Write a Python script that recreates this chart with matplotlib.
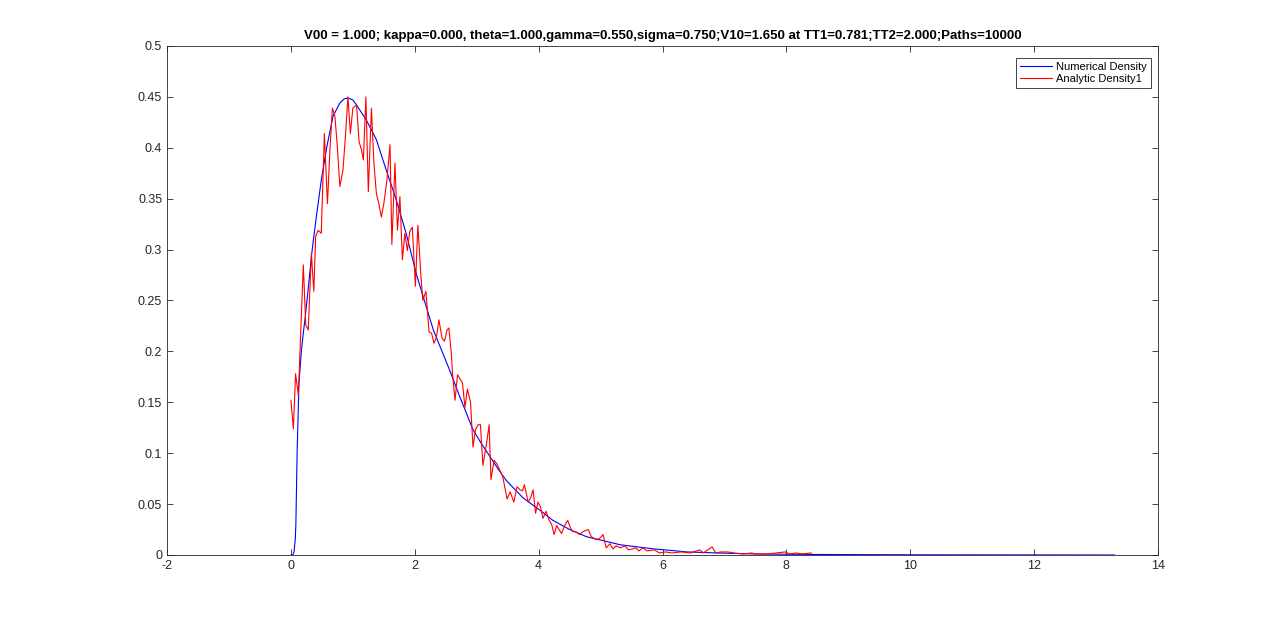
import matplotlib
matplotlib.use("Agg")
import matplotlib.pyplot as plt
from matplotlib.ticker import FuncFormatter

plt.rcParams['font.family'] = ['Liberation Sans', 'DejaVu Sans']
plt.rcParams['axes.unicode_minus'] = False

TITLE = ("V00 = 1.000; kappa=0.000, theta=1.000,gamma=0.550,sigma=0.750;"
         "V10=1.650 at TT1=0.781;TT2=2.000;Paths=10000")

# smooth density
num_x = [0.00, 0.03, 0.05, 0.07, 0.08, 0.10, 0.13, 0.17, 0.20, 0.23, 0.28,
         0.34, 0.41, 0.49, 0.58, 0.68, 0.79, 0.86, 0.92, 1.00, 1.06, 1.22,
         1.38, 1.54, 1.70, 1.86, 2.03, 2.30, 2.56, 2.73, 2.94, 3.08, 3.21,
         3.35, 3.48, 3.75, 4.02, 4.23, 4.50, 4.77, 5.32, 5.86, 6.40, 6.87,
         7.50, 8.50, 10.0, 11.5, 13.3]
num_y = [0.000, 0.000, 0.003, 0.015, 0.030, 0.100, 0.169, 0.201, 0.218,
         0.233, 0.262, 0.298, 0.332, 0.368, 0.401, 0.431, 0.444, 0.448,
         0.449, 0.447, 0.442, 0.427, 0.408, 0.378, 0.349, 0.316, 0.275,
         0.221, 0.182, 0.155, 0.123, 0.109, 0.097, 0.084, 0.073, 0.056,
         0.044, 0.034, 0.025, 0.018, 0.010, 0.006, 0.003, 0.002, 0.001,
         0.0005, 0.0002, 0.0001, 0.0]

# noisy density
ana_x = [0.00, 0.04, 0.075, 0.12, 0.20, 0.24, 0.28, 0.33, 0.37, 0.40, 0.44,
         0.49, 0.54, 0.59, 0.63, 0.67, 0.71, 0.75, 0.79, 0.84, 0.88, 0.92,
         0.96, 1.00, 1.06, 1.10, 1.14, 1.17, 1.21, 1.25, 1.30, 1.34, 1.38,
         1.42, 1.46, 1.50, 1.55, 1.60, 1.63, 1.68, 1.72, 1.76, 1.80, 1.84,
         1.88, 1.92, 1.96, 2.01, 2.05, 2.10, 2.13, 2.18, 2.23, 2.27, 2.31,
         2.35, 2.39, 2.44, 2.48, 2.52, 2.55, 2.59, 2.61, 2.65, 2.69, 2.74,
         2.77, 2.81, 2.85, 2.90, 2.94, 2.98, 3.02, 3.06, 3.10, 3.16, 3.20,
         3.23, 3.28, 3.32, 3.36, 3.42, 3.49, 3.54, 3.60, 3.65, 3.70, 3.74,
         3.77, 3.83, 3.87, 3.91, 3.95, 3.99, 4.03, 4.07, 4.12, 4.17, 4.21,
         4.25, 4.29, 4.33, 4.37, 4.42, 4.47, 4.51, 4.55, 4.60, 4.66, 4.72,
         4.80, 4.85, 4.93, 4.98, 5.04, 5.09, 5.15, 5.20, 5.25, 5.32, 5.39,
         5.45, 5.52, 5.57, 5.62, 5.68, 5.75, 5.87, 5.95, 6.05, 6.15, 6.30,
         6.45, 6.60, 6.66, 6.80, 6.86, 6.95, 7.05, 7.15, 7.30, 7.44, 7.50,
         7.70, 7.98, 8.05, 8.16, 8.25, 8.40]
ana_y = [0.152, 0.124, 0.178, 0.157, 0.285, 0.226, 0.221, 0.296, 0.259,
         0.313, 0.319, 0.316, 0.414, 0.345, 0.398, 0.439, 0.431, 0.401,
         0.362, 0.378, 0.411, 0.450, 0.414, 0.439, 0.442, 0.406, 0.398,
         0.388, 0.450, 0.357, 0.439, 0.385, 0.355, 0.345, 0.332, 0.345,
         0.368, 0.403, 0.305, 0.385, 0.319, 0.352, 0.290, 0.316, 0.299,
         0.318, 0.322, 0.264, 0.324, 0.273, 0.250, 0.259, 0.219, 0.218,
         0.208, 0.214, 0.231, 0.213, 0.210, 0.221, 0.223, 0.198, 0.177,
         0.152, 0.177, 0.172, 0.169, 0.145, 0.163, 0.150, 0.106, 0.123,
         0.128, 0.128, 0.088, 0.110, 0.128, 0.074, 0.093, 0.090, 0.085,
         0.077, 0.055, 0.062, 0.052, 0.067, 0.064, 0.063, 0.069, 0.052,
         0.056, 0.064, 0.041, 0.052, 0.047, 0.036, 0.043, 0.034, 0.030,
         0.020, 0.029, 0.025, 0.021, 0.029, 0.034, 0.027, 0.023, 0.023,
         0.020, 0.023, 0.025, 0.018, 0.015, 0.016, 0.020, 0.007, 0.011,
         0.006, 0.009, 0.007, 0.009, 0.005, 0.006, 0.007, 0.004, 0.007,
         0.004, 0.005, 0.002, 0.003, 0.002, 0.003, 0.002, 0.005, 0.002,
         0.008, 0.002, 0.003, 0.003, 0.002, 0.001, 0.002, 0.001, 0.001,
         0.003, 0.001, 0.002, 0.001, 0.002]

x_ticks = [-2, 0, 2, 4, 6, 8, 10, 12, 14]
y_ticks = [0, 0.05, 0.1, 0.15, 0.2, 0.25, 0.3, 0.35, 0.4, 0.45, 0.5]

fig = plt.figure(figsize=(12.8, 6.24), dpi=100)
ax = fig.add_axes([0.1305, 0.1106, 0.7742, 0.8157])

ax.plot(num_x, num_y, color=(0, 0, 1), lw=0.8, label="Numerical Density")
ax.plot(ana_x, ana_y, color=(1, 0, 0), lw=0.8, label="Analytic Density1")

ax.set_xlim(-2, 14)
ax.set_ylim(0, 0.5)
ax.set_xticks(x_ticks)
ax.set_yticks(y_ticks)
ax.yaxis.set_major_formatter(FuncFormatter(lambda v, p: "%g" % v))
ax.tick_params(direction="in", top=True, right=True, length=4,
               width=0.6, colors="#262626", labelsize=9)
for s in ax.spines.values():
    s.set_color("#262626")
    s.set_linewidth(0.6)

ax.set_title(TITLE, fontsize=9.5, fontweight="bold", pad=5)

leg = ax.legend(loc="upper right", bbox_to_anchor=(0.993, 0.976),
                fontsize=8, fancybox=False, framealpha=1,
                edgecolor="#262626", borderpad=0.35, handlelength=2.9,
                handletextpad=0.4, labelspacing=0.15, borderaxespad=0)
leg.get_frame().set_linewidth(0.6)

fig.savefig("out.png", dpi=100)
